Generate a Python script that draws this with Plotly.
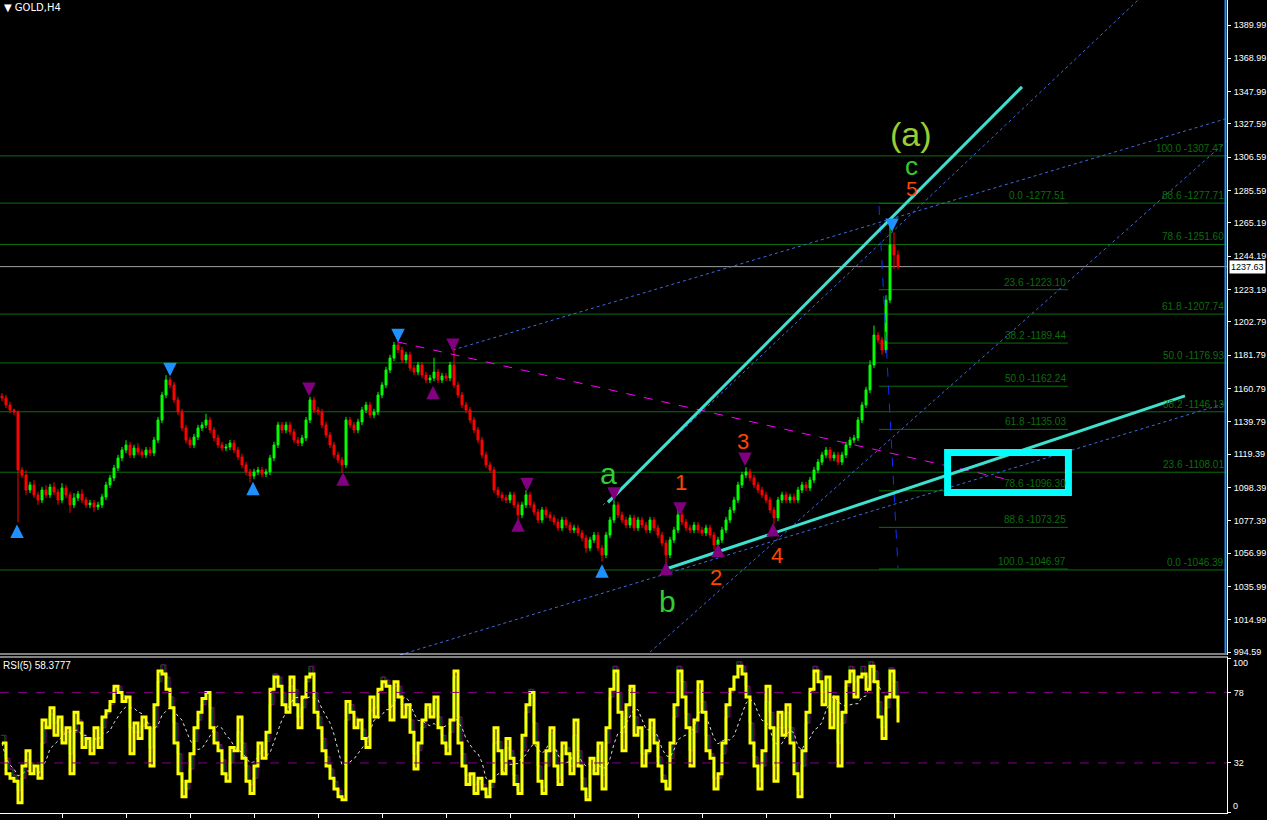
import plotly.graph_objects as go
import pandas as pd

# ---------------- DATA ----------------
first_open = 1156.0
close = [
    1154.8, 1150.4, 1147.2, 1146.0, 1109.4, 1106.3, 1096.8, 1100.0, 1093.7, 1090.5,
    1096.8, 1093.7, 1098.7, 1095.5, 1090.5, 1098.1, 1093.7, 1087.4, 1091.8, 1094.3,
    1090.5, 1087.4, 1088.6, 1086.1, 1087.4, 1092.4, 1100.0, 1104.4, 1110.7, 1117.0,
    1122.0, 1125.2, 1118.9, 1123.3, 1120.8, 1118.9, 1122.0, 1120.1, 1128.3, 1140.9,
    1156.7, 1166.2, 1163.0, 1153.6, 1146.0, 1135.9, 1128.3, 1125.2, 1130.2, 1135.9,
    1137.8, 1140.9, 1134.6, 1129.6, 1125.2, 1123.3, 1123.9, 1126.4, 1122.0, 1117.6,
    1112.6, 1108.2, 1105.6, 1108.2, 1109.4, 1106.9, 1108.2, 1117.0, 1125.2, 1137.8,
    1134.6, 1137.8, 1133.4, 1128.3, 1126.4, 1129.6, 1140.9, 1153.6, 1147.2, 1146.0,
    1137.8, 1131.5, 1125.2, 1118.9, 1115.7, 1112.6, 1140.9, 1137.8, 1134.6, 1139.7,
    1147.2, 1150.4, 1144.1, 1146.0, 1156.7, 1163.0, 1172.5, 1180.0, 1188.2, 1185.1,
    1178.8, 1182.0, 1173.7, 1171.2, 1175.6, 1169.3, 1166.2, 1167.4, 1171.2, 1166.2,
    1168.7, 1167.4, 1175.6, 1163.0, 1156.7, 1150.4, 1147.2, 1140.9, 1134.6, 1128.3,
    1118.9, 1112.6, 1109.4, 1096.8, 1093.7, 1091.8, 1090.5, 1093.7, 1087.4, 1081.1,
    1087.4, 1093.7, 1087.4, 1082.9, 1077.9, 1084.2, 1081.1, 1079.2, 1076.6, 1072.9,
    1077.9, 1074.7, 1071.6, 1072.9, 1069.7, 1066.5, 1060.2, 1065.3, 1068.4, 1060.2,
    1055.8, 1068.4, 1077.9, 1087.4, 1081.1, 1077.9, 1074.7, 1079.2, 1072.9, 1077.9,
    1074.7, 1071.6, 1077.9, 1072.9, 1068.4, 1063.4, 1055.8, 1065.3, 1071.6, 1081.1,
    1076.6, 1072.9, 1071.6, 1074.7, 1071.6, 1069.7, 1072.9, 1068.4, 1062.1, 1065.3,
    1071.6, 1077.9, 1084.2, 1090.5, 1100.0, 1106.3, 1108.2, 1104.4, 1100.0, 1096.8,
    1093.7, 1090.5, 1084.2, 1079.2, 1090.5, 1093.7, 1090.5, 1092.4, 1090.5, 1096.8,
    1100.0, 1098.1, 1103.1, 1109.4, 1114.4, 1118.9, 1122.0, 1117.0, 1118.9, 1114.4,
    1118.9, 1125.2, 1128.3, 1129.6, 1140.9, 1150.4, 1159.9, 1175.6, 1194.5, 1191.4,
    1185.1, 1216.6, 1251.3, 1245.0, 1237.63,
]
wick_up = [
    2, 2, 2, 1, 1, 2, 3, 2, 3, 2,
    2, 3, 2, 3, 2, 3, 2, 2, 3, 2,
    3, 2, 2, 2, 2, 2, 2, 2, 2, 2,
    2, 3, 2, 2, 3, 2, 2, 2, 2, 2,
    2, 3, 2, 2, 2, 2, 2, 2, 2, 2,
    2, 4, 2, 2, 2, 2, 2, 2, 2, 2,
    2, 2, 2, 2, 2, 2, 2, 2, 2, 2,
    2, 2, 2, 2, 2, 2, 2, 2, 2, 2,
    2, 2, 2, 2, 2, 2, 2, 2, 2, 2,
    2, 2, 2, 2, 2, 2, 2, 2, 2, 3,
    2, 2, 2, 2, 2, 2, 2, 2, 9, 2,
    2, 2, 2, 10, 2, 2, 2, 2, 2, 2,
    2, 2, 2, 2, 2, 2, 2, 2, 2, 2,
    2, 3, 2, 2, 2, 2, 2, 2, 2, 2,
    2, 2, 2, 2, 2, 2, 2, 2, 2, 2,
    2, 2, 2, 3, 2, 2, 2, 2, 2, 2,
    2, 2, 2, 2, 2, 2, 2, 2, 2, 5,
    2, 2, 2, 2, 2, 2, 2, 2, 2, 2,
    2, 2, 2, 2, 2, 2, 3, 2, 2, 2,
    2, 2, 2, 2, 2, 2, 2, 2, 2, 2,
    2, 2, 2, 2, 2, 2, 2, 2, 2, 2,
    2, 2, 2, 2, 2, 2, 2, 3, 6, 2,
    2, 3, 12, 8, 3,
]
wick_dn = [
    2, 2, 2, 2, 33, 2, 3, 2, 2, 3,
    2, 2, 2, 2, 3, 2, 2, 5, 2, 2,
    2, 2, 2, 3, 2, 2, 2, 2, 2, 2,
    2, 2, 2, 2, 2, 2, 2, 2, 2, 2,
    2, 2, 2, 2, 2, 2, 2, 2, 2, 2,
    2, 2, 2, 2, 2, 2, 2, 2, 2, 2,
    2, 2, 4, 2, 2, 2, 2, 2, 2, 2,
    2, 2, 2, 2, 2, 2, 2, 2, 2, 2,
    2, 2, 2, 2, 2, 5, 2, 2, 2, 2,
    2, 2, 2, 2, 2, 2, 2, 2, 2, 2,
    2, 2, 2, 2, 2, 2, 2, 2, 2, 2,
    2, 2, 2, 2, 2, 2, 2, 2, 2, 2,
    2, 2, 2, 2, 2, 2, 2, 2, 2, 3,
    2, 2, 2, 2, 2, 2, 2, 2, 2, 2,
    2, 2, 2, 2, 2, 2, 3, 2, 2, 2,
    4, 2, 2, 2, 2, 2, 2, 2, 2, 2,
    2, 2, 2, 2, 2, 2, 7, 2, 2, 2,
    2, 2, 2, 2, 2, 2, 2, 2, 3, 2,
    2, 2, 2, 2, 2, 2, 2, 2, 2, 2,
    2, 2, 2, 4, 2, 2, 2, 2, 2, 2,
    2, 2, 2, 2, 2, 2, 2, 2, 2, 2,
    2, 2, 2, 2, 2, 2, 2, 2, 2, 2,
    3, 2, 2, 9, 2,
]
rsi5 = [
    45, 25, 22, 20, 6, 30, 40, 25, 30, 22,
    60, 55, 68, 50, 62, 45, 55, 25, 65, 58,
    42, 48, 38, 55, 42, 62, 66, 72, 82, 78,
    72, 75, 38, 58, 48, 62, 55, 30, 70, 92,
    90, 80, 68, 45, 25, 10, 20, 38, 55, 65,
    74, 78, 55, 45, 40, 25, 20, 42, 40, 62,
    35, 20, 12, 30, 45, 35, 52, 80, 88, 82,
    70, 65, 88, 70, 55, 75, 88, 90, 65, 55,
    40, 30, 22, 15, 10, 8, 72, 65, 55, 60,
    48, 42, 75, 62, 80, 85, 82, 60, 85, 75,
    62, 70, 52, 28, 45, 60, 70, 62, 75, 55,
    45, 38, 60, 92, 45, 30, 18, 25, 12, 22,
    15, 10, 20, 55, 40, 25, 48, 35, 18, 12,
    50, 70, 78, 45, 20, 12, 40, 55, 30, 18,
    45, 38, 25, 60, 30, 15, 8, 35, 25, 45,
    15, 55, 80, 92, 65, 40, 70, 82, 50, 55,
    30, 40, 60, 45, 30, 20, 15, 45, 70, 92,
    75, 55, 30, 60, 85, 65, 40, 35, 15, 25,
    45, 70, 80, 88, 95, 90, 75, 45, 30, 15,
    40, 82, 55, 20, 65, 50, 70, 45, 25, 10,
    40, 65, 80, 92, 85, 70, 88, 55, 75, 30,
    65, 85, 92, 75, 88, 90, 80, 95, 85, 62,
    48, 75, 92, 75, 58.38,
]
rsi_slow = [
    50, 35, 28, 24, 14, 22, 34, 32, 30, 26,
    45, 56, 64, 58, 60, 52, 52, 38, 52, 60,
    50, 46, 42, 48, 46, 55, 64, 70, 80, 82,
    76, 74, 55, 52, 52, 56, 58, 42, 55, 85,
    96, 88, 75, 58, 38, 20, 15, 28, 46, 60,
    70, 78, 68, 52, 44, 34, 24, 32, 40, 52,
    45, 30, 18, 22, 38, 40, 46, 70, 90, 88,
    78, 68, 82, 80, 62, 68, 85, 95, 78, 62,
    48, 36, 28, 20, 14, 10, 60, 70, 62, 60,
    54, 46, 66, 68, 78, 88, 86, 70, 82, 82,
    70, 68, 60, 38, 40, 55, 68, 66, 72, 62,
    50, 42, 52, 88, 62, 38, 24, 24, 18, 20,
    18, 12, 16, 45, 46, 32, 42, 40, 24, 14,
    40, 65, 80, 58, 30, 16, 30, 52, 40, 22,
    38, 42, 30, 50, 40, 22, 10, 25, 28, 40,
    24, 45, 75, 95, 78, 52, 62, 80, 62, 55,
    38, 38, 55, 50, 36, 24, 16, 35, 62, 95,
    85, 64, 40, 52, 80, 72, 50, 38, 22, 22,
    38, 62, 78, 88, 98, 95, 82, 58, 36, 20,
    30, 72, 65, 30, 55, 55, 65, 55, 32, 14,
    30, 58, 78, 95, 92, 78, 88, 65, 72, 45,
    58, 82, 95, 85, 88, 95, 88, 98, 92, 72,
    55, 68, 94, 85, 68,
]

price_ticks = [1389.99, 1368.99, 1347.99, 1327.59, 1306.59, 1285.59, 1265.19, 1244.19,
               1223.19, 1202.79, 1181.79, 1160.79, 1139.79, 1119.39, 1098.39, 1077.39,
               1056.99, 1035.99, 1014.99, 994.59]
current_price = 1237.63
rsi_levels = [78, 32]
rsi_title = "RSI(5) 58.3777"

x_ticks = [15, 31, 47, 63, 79, 95, 111, 127, 143, 159, 175, 191, 207, 223]
x_labels = ["24 Jul 12:00", "5 Aug 20:00", "18 Aug 04:00", "28 Aug 12:00", "9 Sep 20:00",
            "22 Sep 04:00", "2 Oct 12:00", "14 Oct 20:00", "27 Oct 04:00", "6 Nov 12:00",
            "18 Nov 20:00", "1 Dec 04:00", "11 Dec 12:00", "23 Dec 20:00"]

# Fibonacci set spanning the whole chart
fib_a_levels = [100.0, 88.6, 78.6, 61.8, 50.0, 38.2, 23.6, 0.0]
fib_a_prices = [1307.47, 1277.71, 1251.60, 1207.74, 1176.93, 1146.13, 1108.01, 1046.39]
# Fibonacci retracement drawn on the last leg
fib_b_levels = [0.0, 23.6, 38.2, 50.0, 61.8, 78.6, 88.6, 100.0]
fib_b_prices = [1277.51, 1223.10, 1189.44, 1162.24, 1135.03, 1096.30, 1073.25, 1046.97]
fib_b_bars = (219.25, 266.5)

# drawing objects: (bar, price) anchors
cyan_lines = [((151.5, 1089.0), (255.0, 1351.0)), ((166.0, 1047.0), (295.75, 1156.1))]
box = ((236.4, 1120.45), (266.6, 1095.2))
magenta_line = ((99.0, 1190.1), (252.0, 1103.1))
blue_dotted = [((112.75, 1185.1), (330.0, 1349.0)),
               ((162.0, 994.6), (330.0, 1370.0)),
               ((150.25, 1087.3), (290.0, 1420.0)),
               ((99.5, 992.8), (330.0, 1170.0))]
blue_dashed = ((219.25, 1275.9), (224.0, 1047.6))

# fractal arrows: (bar, tip price)
arrows_blue_down = [(42, 1168.5), (99, 1190.0), (222.5, 1259.5)]
arrows_blue_up = [(3.75, 1075.0), (62.75, 1102.0), (150, 1050.0)]
arrows_purple_down = [(76.75, 1156.0), (112.75, 1183.8), (131.25, 1096.0), (153, 1090.0),
                      (169.5, 1080.5), (185.75, 1112.0)]
arrows_purple_up = [(85.25, 1108.0), (107.75, 1162.5), (129, 1079.0), (166, 1051.5),
                    (179, 1063.0), (192.75, 1076.0)]

wave_labels = [("(a)", 227.25, 1321.0, "#9ACD32", 34), ("c", 227.25, 1301.0, "#32CD32", 26),
               ("5", 227.5, 1287.0, "#FF4500", 21), ("a", 151.5, 1107.5, "#32CD32", 30),
               ("b", 166.25, 1026.8, "#32CD32", 30), ("1", 169.75, 1101.8, "#FF4500", 22),
               ("2", 178.5, 1041.9, "#FF4500", 22), ("3", 185.25, 1127.7, "#FF4500", 22),
               ("4", 193.75, 1055.8, "#FF4500", 22)]

# ---------------- BUILD ----------------
W, H = 1267, 820
PLOT_R = 1227
P_TOP, P_BOT = 1405.75, 992.77
X_RANGE = [-0.5, 306.25]
FONT = "Liberation Sans, Arial, sans-serif"
AX_FONT = dict(color="white", size=9, family=FONT)

bars = list(range(len(close)))
open_ = [first_open] + close[:-1]
high = [max(o, c) + w for o, c, w in zip(open_, close, wick_up)]
low = [min(o, c) - w for o, c, w in zip(open_, close, wick_dn)]
rsi_ma = pd.Series(rsi5).rolling(8, min_periods=1).mean().tolist()

fig = go.Figure()
fig.add_trace(go.Candlestick(
    x=bars, open=open_, high=high, low=low, close=close,
    increasing=dict(line=dict(color="#00FF00", width=1), fillcolor="#00FF00"),
    decreasing=dict(line=dict(color="#FF0000", width=1), fillcolor="#FF0000"),
    whiskerwidth=0, hoverinfo="skip", xaxis="x", yaxis="y"))

# RSI panel
fig.add_trace(go.Scatter(x=[b - 0.3 for b in bars], y=rsi_slow, mode="lines",
                         line=dict(color="#006400", width=1, shape="hv"), hoverinfo="skip",
                         xaxis="x2", yaxis="y2"))
fig.add_trace(go.Scatter(x=bars, y=rsi_slow, mode="lines",
                         line=dict(color="#800080", width=1, shape="hv"), hoverinfo="skip",
                         xaxis="x2", yaxis="y2"))
fig.add_trace(go.Scatter(x=bars, y=rsi_ma, mode="lines",
                         line=dict(color="#DDDDDD", width=1, dash="dot"), hoverinfo="skip",
                         xaxis="x2", yaxis="y2"))
fig.add_trace(go.Scatter(x=bars, y=rsi5, mode="lines",
                         line=dict(color="#FFFF00", width=3, shape="hv"), hoverinfo="skip",
                         xaxis="x2", yaxis="y2"))

shapes = []
annotations = []
FIB_COL = "#0B6E0B"
for lvl, p in zip(fib_a_levels, fib_a_prices):
    shapes.append(dict(type="line", xref="x", yref="y", x0=X_RANGE[0], x1=X_RANGE[1], y0=p, y1=p,
                       line=dict(color=FIB_COL, width=1), layer="below"))
    annotations.append(dict(xref="x", yref="y", x=X_RANGE[1] - 0.2, y=p, xanchor="right",
                            yanchor="bottom", text=f"{lvl:.1f} -{p:.2f}", showarrow=False,
                            font=dict(color=FIB_COL, size=10, family=FONT)))
for lvl, p in zip(fib_b_levels, fib_b_prices):
    shapes.append(dict(type="line", xref="x", yref="y", x0=fib_b_bars[0], x1=fib_b_bars[1],
                       y0=p, y1=p, line=dict(color=FIB_COL, width=1), layer="below"))
    annotations.append(dict(xref="x", yref="y", x=fib_b_bars[1], y=p, xanchor="right",
                            yanchor="bottom", text=f"{lvl:.1f} -{p:.2f}", showarrow=False,
                            font=dict(color=FIB_COL, size=10, family=FONT)))
shapes.append(dict(type="line", xref="x", yref="y", x0=X_RANGE[0], x1=X_RANGE[1],
                   y0=current_price, y1=current_price, line=dict(color="#A0A0A0", width=1),
                   layer="below"))

def seg(a, b, color, width, dash="solid"):
    shapes.append(dict(type="line", xref="x", yref="y", x0=a[0], y0=a[1], x1=b[0], y1=b[1],
                       line=dict(color=color, width=width, dash=dash)))

for a, b in blue_dotted:
    seg(a, b, "#4169E1", 1, "dot")
seg(*blue_dashed, "#1030FF", 1, "dash")
seg(*magenta_line, "#FF00FF", 1, "dash")
for a, b in cyan_lines:
    seg(a, b, "#40E0D0", 3)
shapes.append(dict(type="rect", xref="x", yref="y", x0=box[0][0], y0=box[0][1], x1=box[1][0],
                   y1=box[1][1], line=dict(color="#00FFFF", width=7)))

# RSI levels
for lv in rsi_levels:
    shapes.append(dict(type="line", xref="x2", yref="y2", x0=X_RANGE[0], x1=X_RANGE[1], y0=lv,
                       y1=lv, line=dict(color="#800080", width=1, dash="dash")))

# arrows (fractals) drawn as annotation arrows with stems
def arrows(pts, down, color):
    for bx, p in pts:
        annotations.append(dict(xref="x", yref="y", x=bx, y=p, ax=0, ay=-13 if down else 13,
                                text="", showarrow=True, arrowhead=2, arrowsize=0.9,
                                arrowwidth=3, arrowcolor=color))

arrows(arrows_blue_down, True, "#1E90FF")
arrows(arrows_blue_up, False, "#1E90FF")
arrows(arrows_purple_down, True, "#800080")
arrows(arrows_purple_up, False, "#800080")

# panel frames
def px_x(v):
    return v / W

def px_y(v):
    return 1 - v / H

for yy in (654, 657):
    shapes.append(dict(type="line", xref="paper", yref="paper", x0=0, x1=px_x(PLOT_R + 1),
                       y0=px_y(yy), y1=px_y(yy), line=dict(color="white", width=1)))
shapes.append(dict(type="line", xref="paper", yref="paper", x0=px_x(PLOT_R - 1.5),
                   x1=px_x(PLOT_R - 1.5), y0=px_y(654), y1=1, line=dict(color="#1E90FF", width=2)))

for txt, bx, p, col, sz in wave_labels:
    annotations.append(dict(xref="x", yref="y", x=bx, y=p, text=txt, showarrow=False,
                            borderpad=0, font=dict(color=col, size=sz, family=FONT)))

annotations.append(dict(xref="paper", yref="paper", x=px_x(2), y=px_y(0), xanchor="left",
                        yanchor="top", text="▼ GOLD,H4", showarrow=False,
                        font=dict(color="white", size=10, family="DejaVu Sans")))
annotations.append(dict(xref="paper", yref="paper", x=px_x(1), y=px_y(658), xanchor="left",
                        yanchor="top", text=rsi_title, showarrow=False,
                        font=dict(color="white", size=10, family=FONT)))
annotations.append(dict(xref="paper", yref="y", x=px_x(PLOT_R + 2), y=current_price,
                        xanchor="left", yanchor="middle", text=f"{current_price:.2f}",
                        showarrow=False, bgcolor="white", borderpad=1,
                        font=dict(color="black", size=9, family=FONT)))
# RSI end labels sit inside the panel, as in the terminal
for txt, yy in (("100", 663), ("0", 806)):
    annotations.append(dict(xref="paper", yref="paper", x=px_x(PLOT_R + 4), y=px_y(yy),
                            xanchor="left", yanchor="middle", text=txt, showarrow=False,
                            font=AX_FONT))

fig.update_layout(
    width=W, height=H, margin=dict(l=0, r=0, t=0, b=0, autoexpand=False),
    paper_bgcolor="black", plot_bgcolor="black", showlegend=False, hovermode=False,
    shapes=shapes, annotations=annotations,
    xaxis=dict(domain=[0, PLOT_R / W], range=X_RANGE, showgrid=False, zeroline=False,
               showticklabels=False, rangeslider=dict(visible=False), anchor="y",
               automargin=False),
    yaxis=dict(domain=[1 - 655 / H, 1], range=[P_BOT, P_TOP], side="right", anchor="x",
               tickvals=price_ticks, ticktext=[f"{v:.2f}" for v in price_ticks],
               tickfont=AX_FONT, showgrid=False, ticklabelstandoff=1,
               zeroline=False, ticks="outside", ticklen=3, tickcolor="white",
               showline=True, linecolor="white", linewidth=1, automargin=False),
    xaxis2=dict(domain=[0, PLOT_R / W], range=X_RANGE, anchor="y2", tickvals=x_ticks,
                ticktext=x_labels, tickfont=AX_FONT, ticklabelstandoff=0,
                ticks="outside", ticklen=4, tickcolor="white", showline=True,
                linecolor="white", linewidth=1, showgrid=False, zeroline=False,
                automargin=False),
    yaxis2=dict(domain=[1 - 813 / H, 1 - 657 / H], range=[-0.65, 101.1], side="right",
                anchor="x2", tickvals=[100, 78, 32, 0], ticktext=["", "78", "32", ""],
                tickfont=AX_FONT, showgrid=False, ticklabelstandoff=1,
                zeroline=False, ticks="outside", ticklen=3, tickcolor="white",
                showline=True, linecolor="white", linewidth=1, automargin=False),
)

fig.write_html("out.html", config={"displayModeBar": False},
               post_script="document.body.style.margin='0px';"
                           "document.body.style.background='black';")
